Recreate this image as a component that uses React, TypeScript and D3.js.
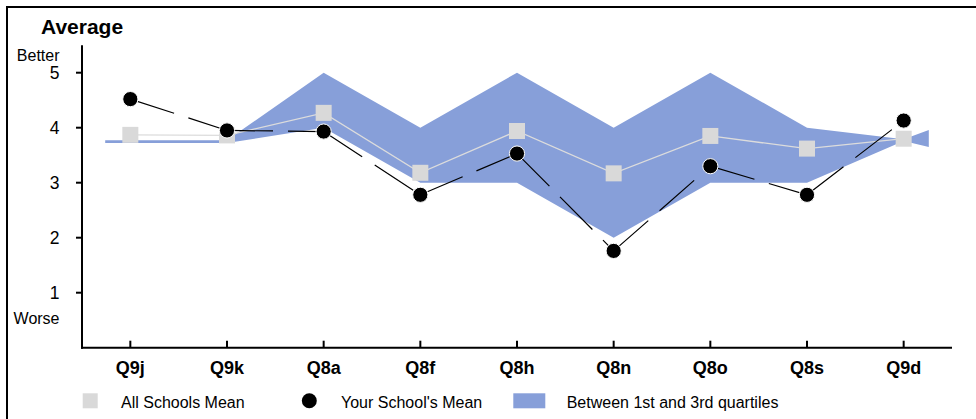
import React from "react";
import * as d3 from "d3";

const categories = ["Q9j", "Q9k", "Q8a", "Q8f", "Q8h", "Q8n", "Q8o", "Q8s", "Q9d"];
const allSchoolsMean = [3.87, 3.86, 4.27, 3.18, 3.94, 3.17, 3.85, 3.62, 3.8];
const yourSchoolMean = [4.52, 3.95, 3.93, 2.78, 3.53, 1.76, 3.3, 2.78, 4.13];
const quartile1 = [3.72, 3.72, 4, 3, 3, 2, 3, 3, 3.76];
const quartile3 = [3.77, 3.77, 5, 4, 5, 4, 5, 4, 3.79];
// band end caps (q1, q3) beyond first and last category
const bandLeftEnd = [3.72, 3.77];
const bandRightEnd = [3.65, 3.96];
const yTicks = [1, 2, 3, 4, 5];
const legendLabels = ["All Schools Mean", "Your School's Mean", "Between 1st and 3rd quartiles"];

const W = 976;
const H = 419;
const FONT = "Arial, 'Liberation Sans', sans-serif";

export default function App() {
  const x = d3.scaleBand<string>().domain(categories).range([82, 952]).padding(0);
  const bw = x.bandwidth();
  const cx = (c: string) => (x(c) as number) + bw / 2;
  const y = d3.scaleLinear().domain([0, 5.5]).range([347.7, 45.2]);

  type BP = { x: number; q1: number; q3: number };
  const bandPts: BP[] = [
    { x: cx(categories[0]) - bw * 0.26, q1: bandLeftEnd[0], q3: bandLeftEnd[1] },
    ...categories.map((c, i) => ({ x: cx(c), q1: quartile1[i], q3: quartile3[i] })),
    { x: cx(categories[categories.length - 1]) + bw * 0.26, q1: bandRightEnd[0], q3: bandRightEnd[1] },
  ];
  const area = d3
    .area<BP>()
    .x((d) => d.x)
    .y0((d) => y(d.q1))
    .y1((d) => y(d.q3));

  const allLine = d3
    .line<number>()
    .x((_, i) => cx(categories[i]))
    .y((d) => y(d));

  const yourSegs = yourSchoolMean.slice(1).map((v, i) => ({
    x1: cx(categories[i]),
    y1: y(yourSchoolMean[i]),
    x2: cx(categories[i + 1]),
    y2: y(v),
  }));

  const x0 = 82;
  const x1 = 952;
  const yBase = y(0);
  const yTop = y(5.5);

  return (
    <div style={{ position: "absolute", left: 0, top: 0 }}>
      <svg width={W} height={H} style={{ display: "block", fontFamily: FONT }}>
        <rect x={0} y={0} width={W} height={H} fill="#fff" />
        {/* frame */}
        <rect x={7} y={7} width={W + 10} height={H + 10} fill="none" stroke="#000" strokeWidth={2} />
        {/* title */}
        <text x={41} y={34} fontSize={21} fontWeight="bold" fill="#000">
          Average
        </text>

        {/* band */}
        <path d={area(bandPts) || ""} fill="#879fd9" />

        {/* all schools mean line and squares */}
        <path d={allLine(allSchoolsMean) || ""} fill="none" stroke="#dcdcdc" strokeWidth={1.3} />
        {allSchoolsMean.map((v, i) => (
          <rect key={"s" + i} x={cx(categories[i]) - 8} y={y(v) - 8} width={16} height={16} fill="#d9d9d9" />
        ))}

        {/* your school line (dashed segments) and circles */}
        {yourSegs.map((s, i) => (
          <line
            key={"l" + i}
            x1={s.x1}
            y1={s.y1}
            x2={s.x2}
            y2={s.y2}
            stroke="#000"
            strokeWidth={1.2}
            strokeDasharray="46 15"
          />
        ))}
        {yourSchoolMean.map((v, i) => (
          <circle key={"c" + i} cx={cx(categories[i])} cy={y(v)} r={7.6} fill="#000" stroke="#fff" strokeWidth={1} />
        ))}

        {/* y axis */}
        <line x1={x0} y1={yTop} x2={x0} y2={yBase + 1} stroke="#000" strokeWidth={2} />
        {yTicks.map((t) => (
          <g key={"yt" + t}>
            <line x1={x0 - 6} x2={x0} y1={y(t)} y2={y(t)} stroke="#000" strokeWidth={2} />
            <text x={59.5} y={y(t) + 6.2} fontSize={17.5} textAnchor="end" fill="#000">
              {t}
            </text>
          </g>
        ))}
        <text x={59.5} y={61} fontSize={16} textAnchor="end" fill="#000">
          Better
        </text>
        <text x={59.5} y={323.5} fontSize={16} textAnchor="end" fill="#000">
          Worse
        </text>

        {/* x axis */}
        <line x1={x0 - 1} y1={yBase} x2={x1} y2={yBase} stroke="#000" strokeWidth={2} />
        {categories.map((c) => (
          <g key={"xt" + c}>
            <line x1={cx(c)} x2={cx(c)} y1={yBase - 7} y2={yBase} stroke="#000" strokeWidth={2} />
            <text x={cx(c)} y={373.5} fontSize={18} fontWeight="bold" textAnchor="middle" fill="#000">
              {c}
            </text>
          </g>
        ))}

        {/* legend */}
        <rect x={82.7} y={393.3} width={15} height={15} fill="#d9d9d9" />
        <text x={121} y={407.7} fontSize={16} fill="#000">
          {legendLabels[0]}
        </text>
        <circle cx={309.3} cy={400.8} r={7.5} fill="#000" />
        <text x={341} y={407.7} fontSize={16} fill="#000">
          {legendLabels[1]}
        </text>
        <rect x={513.3} y={393.3} width={32} height={15} fill="#879fd9" />
        <text x={566.7} y={407.7} fontSize={16} fill="#000">
          {legendLabels[2]}
        </text>
      </svg>
    </div>
  );
}
